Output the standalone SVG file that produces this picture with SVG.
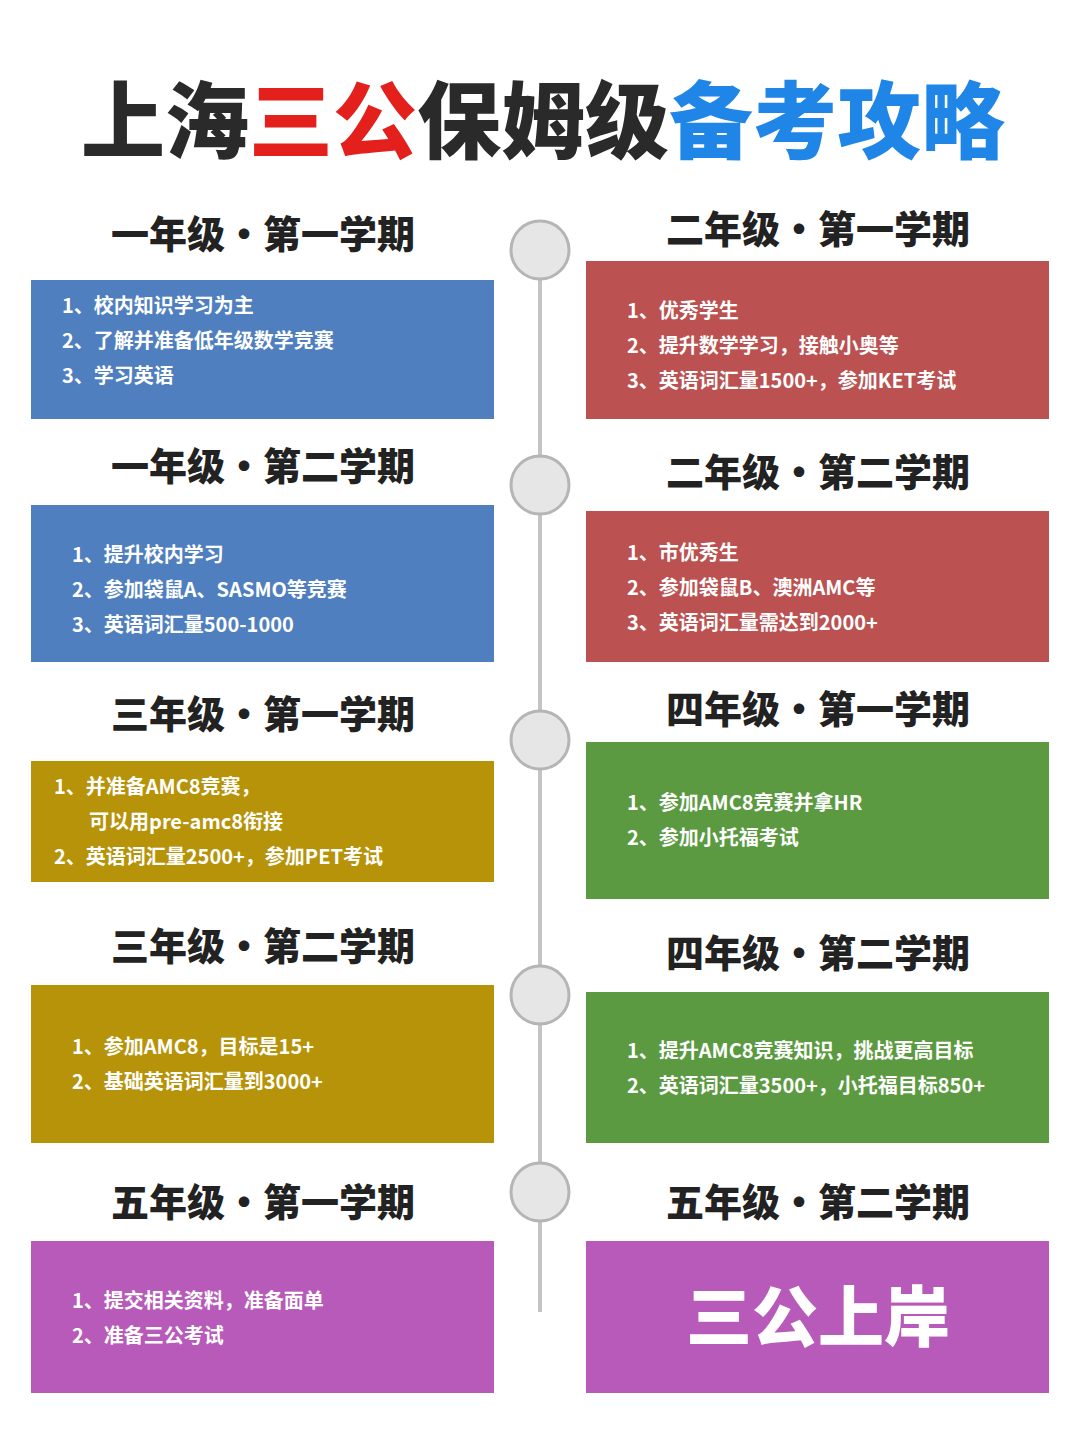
<svg xmlns="http://www.w3.org/2000/svg" width="1080" height="1440" viewBox="0 0 1080 1440">
<style>
.h{font-family:"Noto Sans CJK SC","Noto Sans",sans-serif;font-weight:900;font-size:38px;fill:#222;text-anchor:middle}
.t{font-family:"Noto Sans CJK SC","Noto Sans",sans-serif;font-weight:700;font-size:20px;fill:#fff}
.c{fill:#e6e6e6;stroke:#b5b5b5;stroke-width:3}
.blue{fill:#4f7fbf}.red{fill:#bb5150}.gold{fill:#b69309}.green{fill:#5b9a40}.pur{fill:#b75ab9}
</style>
<rect width="1080" height="1440" fill="#fff"/>
<text x="543" y="152" text-anchor="middle" font-family="Noto Sans CJK SC,sans-serif" font-weight="900" font-size="84"><tspan fill="#2a2a2a">上海</tspan><tspan fill="#e3201b">三公</tspan><tspan fill="#2a2a2a">保姆级</tspan><tspan fill="#1f86e8">备考攻略</tspan></text>
<g id="connectors"><line x1="540" y1="250" x2="540" y2="1312" stroke="#c4c4c4" stroke-width="4"/>
<circle class="c" cx="540" cy="250" r="29"/><circle class="c" cx="540" cy="485" r="29"/><circle class="c" cx="540" cy="740" r="29"/><circle class="c" cx="540" cy="995" r="29"/><circle class="c" cx="540" cy="1192" r="29"/></g>
<g id="l1"><text class="h" x="263" y="248">一年级·第一学期</text><rect class="blue" x="31" y="280" width="463" height="139"/>
<text class="t" x="62" y="313">1、校内知识学习为主</text><text class="t" x="62" y="348">2、了解并准备低年级数学竞赛</text><text class="t" x="62" y="383">3、学习英语</text></g>
<g id="l2"><text class="h" x="263" y="480">一年级·第二学期</text><rect class="blue" x="31" y="505" width="463" height="157"/>
<text class="t" x="72" y="562">1、提升校内学习</text><text class="t" x="72" y="597">2、参加袋鼠A、SASMO等竞赛</text><text class="t" x="72" y="632">3、英语词汇量500-1000</text></g>
<g id="l3"><text class="h" x="263" y="728">三年级·第一学期</text><rect class="gold" x="31" y="761" width="463" height="121"/>
<text class="t" x="54" y="794">1、并准备AMC8竞赛，</text><text class="t" x="89" y="829">可以用pre-amc8衔接</text><text class="t" x="54" y="864">2、英语词汇量2500+，参加PET考试</text></g>
<g id="l4"><text class="h" x="263" y="960">三年级·第二学期</text><rect class="gold" x="31" y="985" width="463" height="158"/>
<text class="t" x="72" y="1054">1、参加AMC8，目标是15+</text><text class="t" x="72" y="1089">2、基础英语词汇量到3000+</text></g>
<g id="l5"><text class="h" x="263" y="1216">五年级·第一学期</text><rect class="pur" x="31" y="1241" width="463" height="152"/>
<text class="t" x="72" y="1308">1、提交相关资料，准备面单</text><text class="t" x="72" y="1343">2、准备三公考试</text></g>
<g id="r1"><text class="h" x="818" y="243">二年级·第一学期</text><rect class="red" x="586" y="261" width="463" height="158"/>
<text class="t" x="627" y="318">1、优秀学生</text><text class="t" x="627" y="353">2、提升数学学习，接触小奥等</text><text class="t" x="627" y="388">3、英语词汇量1500+，参加KET考试</text></g>
<g id="r2"><text class="h" x="818" y="486">二年级·第二学期</text><rect class="red" x="586" y="511" width="463" height="151"/>
<text class="t" x="627" y="560">1、市优秀生</text><text class="t" x="627" y="595">2、参加袋鼠B、澳洲AMC等</text><text class="t" x="627" y="630">3、英语词汇量需达到2000+</text></g>
<g id="r3"><text class="h" x="818" y="723">四年级·第一学期</text><rect class="green" x="586" y="742" width="463" height="157"/>
<text class="t" x="627" y="810">1、参加AMC8竞赛并拿HR</text><text class="t" x="627" y="845">2、参加小托福考试</text></g>
<g id="r4"><text class="h" x="818" y="967">四年级·第二学期</text><rect class="green" x="586" y="992" width="463" height="151"/>
<text class="t" x="627" y="1058">1、提升AMC8竞赛知识，挑战更高目标</text><text class="t" x="627" y="1093">2、英语词汇量3500+，小托福目标850+</text></g>
<g id="r5"><text class="h" x="818" y="1216">五年级·第二学期</text><rect class="pur" x="586" y="1241" width="463" height="152"/>
<text x="818" y="1341" text-anchor="middle" font-family="Noto Sans CJK SC,sans-serif" font-weight="900" font-size="66" fill="#fff">三公上岸</text></g>
</svg>
